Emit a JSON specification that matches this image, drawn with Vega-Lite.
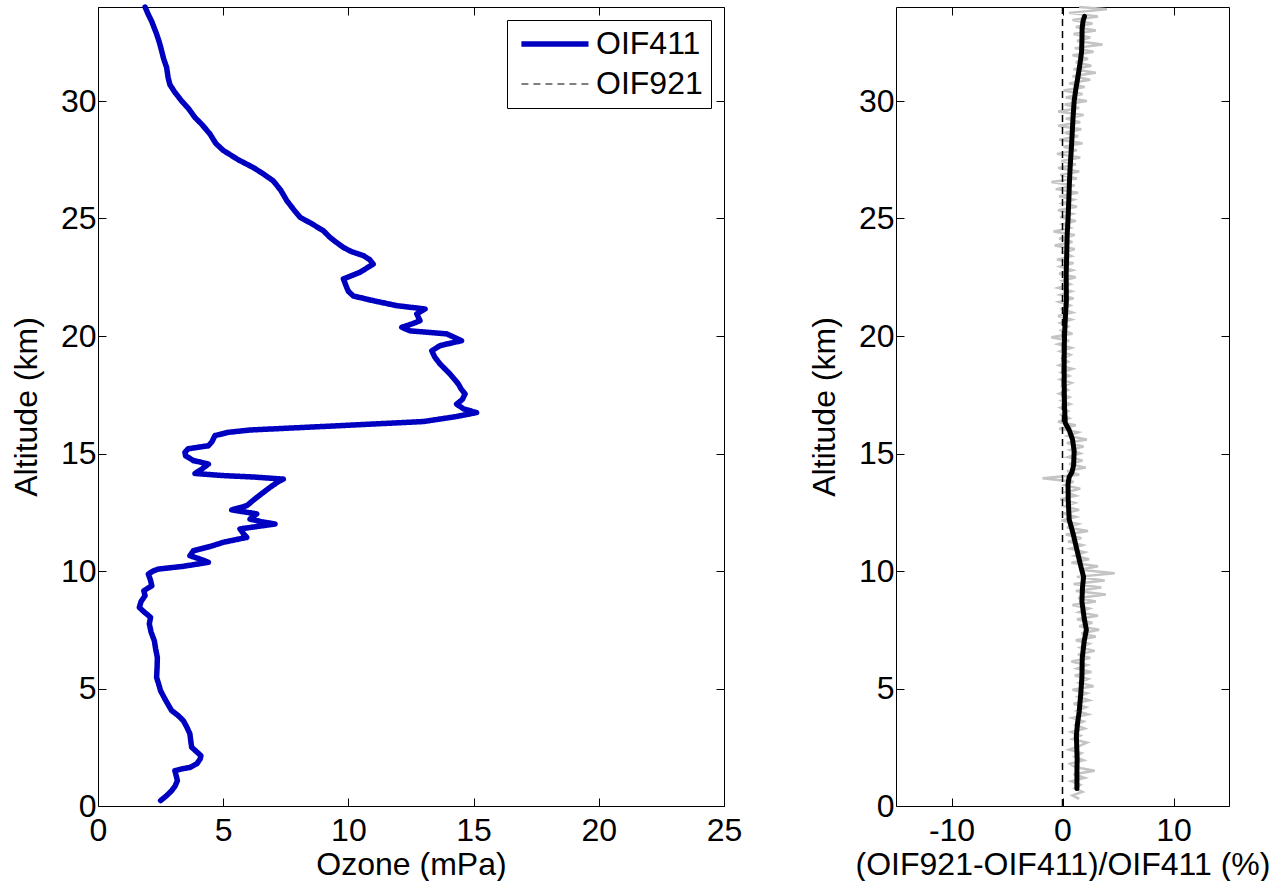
{
"$schema": "https://vega.github.io/schema/vega-lite/v6.json",
"padding": {"left": 9, "top": 1, "right": 0, "bottom": 0},
"background": "white",
"config": {
  "font": "Liberation Sans",
  "view": {"stroke": "black", "strokeWidth": 1},
  "axis": {"grid": false, "domain": false, "tickColor": "black", "tickSize": -8, "tickWidth": 1, "labelFontSize": 32, "labelColor": "black", "titleFontSize": 32, "titleFontWeight": "normal", "titleColor": "black", "labelFlush": false},
  "axisX": {"labelPadding": 17, "titlePadding": 3},
  "axisY": {"labelPadding": 10, "titlePadding": 17}
},
"datasets": {
  "ozone": [
{"series":"OIF411","alt":0.23,"ozone":2.50},{"series":"OIF411","alt":0.45,"ozone":2.75},{"series":"OIF411","alt":0.65,"ozone":2.94},{"series":"OIF411","alt":0.85,"ozone":3.08},{"series":"OIF411","alt":1.08,"ozone":3.17},{"series":"OIF411","alt":1.3,"ozone":3.12},{"series":"OIF411","alt":1.5,"ozone":3.07},{"series":"OIF411","alt":1.58,"ozone":3.35},{"series":"OIF411","alt":1.64,"ozone":3.67},{"series":"OIF411","alt":1.8,"ozone":3.95},{"series":"OIF411","alt":2.0,"ozone":4.08},{"series":"OIF411","alt":2.14,"ozone":4.11},{"series":"OIF411","alt":2.3,"ozone":3.95},{"series":"OIF411","alt":2.5,"ozone":3.74},{"series":"OIF411","alt":2.8,"ozone":3.7},{"series":"OIF411","alt":3.07,"ozone":3.67},{"series":"OIF411","alt":3.35,"ozone":3.55},{"series":"OIF411","alt":3.63,"ozone":3.41},{"series":"OIF411","alt":3.85,"ozone":3.2},{"series":"OIF411","alt":4.06,"ozone":2.94},{"series":"OIF411","alt":4.5,"ozone":2.7},{"series":"OIF411","alt":4.9,"ozone":2.5},{"series":"OIF411","alt":5.2,"ozone":2.42},{"series":"OIF411","alt":5.47,"ozone":2.34},{"series":"OIF411","alt":5.9,"ozone":2.36},{"series":"OIF411","alt":6.32,"ozone":2.37},{"series":"OIF411","alt":6.7,"ozone":2.3},{"series":"OIF411","alt":7.03,"ozone":2.25},{"series":"OIF411","alt":7.4,"ozone":2.12},{"series":"OIF411","alt":7.75,"ozone":2.05},{"series":"OIF411","alt":8.03,"ozone":2.1},{"series":"OIF411","alt":8.25,"ozone":1.85},{"series":"OIF411","alt":8.45,"ozone":1.65},{"series":"OIF411","alt":8.7,"ozone":1.72},{"series":"OIF411","alt":8.95,"ozone":1.88},{"series":"OIF411","alt":9.16,"ozone":1.83},{"series":"OIF411","alt":9.37,"ozone":2.15},{"series":"OIF411","alt":9.6,"ozone":2.1},{"series":"OIF411","alt":9.87,"ozone":2.01},{"series":"OIF411","alt":10.0,"ozone":2.2},{"series":"OIF411","alt":10.08,"ozone":2.4},{"series":"OIF411","alt":10.2,"ozone":3.41},{"series":"OIF411","alt":10.37,"ozone":4.41},{"series":"OIF411","alt":10.5,"ozone":4.1},{"series":"OIF411","alt":10.65,"ozone":3.67},{"series":"OIF411","alt":10.86,"ozone":3.81},{"series":"OIF411","alt":11.05,"ozone":4.5},{"series":"OIF411","alt":11.22,"ozone":5.0},{"series":"OIF411","alt":11.43,"ozone":5.94},{"series":"OIF411","alt":11.6,"ozone":5.8},{"series":"OIF411","alt":11.79,"ozone":5.67},{"series":"OIF411","alt":11.9,"ozone":6.4},{"series":"OIF411","alt":12.0,"ozone":7.07},{"series":"OIF411","alt":12.1,"ozone":6.5},{"series":"OIF411","alt":12.21,"ozone":6.07},{"series":"OIF411","alt":12.43,"ozone":6.34},{"series":"OIF411","alt":12.6,"ozone":5.34},{"series":"OIF411","alt":12.78,"ozone":5.94},{"series":"OIF411","alt":13.13,"ozone":6.34},{"series":"OIF411","alt":13.56,"ozone":6.87},{"series":"OIF411","alt":13.8,"ozone":7.2},{"series":"OIF411","alt":13.91,"ozone":7.4},{"series":"OIF411","alt":14.0,"ozone":6.2},{"series":"OIF411","alt":14.06,"ozone":5.0},{"series":"OIF411","alt":14.15,"ozone":3.87},{"series":"OIF411","alt":14.3,"ozone":4.1},{"series":"OIF411","alt":14.55,"ozone":4.41},{"series":"OIF411","alt":14.7,"ozone":3.81},{"series":"OIF411","alt":14.9,"ozone":3.5},{"series":"OIF411","alt":15.05,"ozone":3.47},{"series":"OIF411","alt":15.2,"ozone":3.6},{"series":"OIF411","alt":15.33,"ozone":4.41},{"series":"OIF411","alt":15.5,"ozone":4.55},{"series":"OIF411","alt":15.76,"ozone":4.67},{"series":"OIF411","alt":15.9,"ozone":5.2},{"series":"OIF411","alt":16.0,"ozone":6.07},{"series":"OIF411","alt":16.15,"ozone":9.0},{"series":"OIF411","alt":16.36,"ozone":13.0},{"series":"OIF411","alt":16.57,"ozone":14.3},{"series":"OIF411","alt":16.74,"ozone":15.12},{"series":"OIF411","alt":16.9,"ozone":14.6},{"series":"OIF411","alt":17.1,"ozone":14.32},{"series":"OIF411","alt":17.3,"ozone":14.55},{"series":"OIF411","alt":17.53,"ozone":14.66},{"series":"OIF411","alt":17.75,"ozone":14.5},{"series":"OIF411","alt":17.96,"ozone":14.39},{"series":"OIF411","alt":18.38,"ozone":14.06},{"series":"OIF411","alt":18.81,"ozone":13.66},{"series":"OIF411","alt":19.1,"ozone":13.45},{"series":"OIF411","alt":19.37,"ozone":13.33},{"series":"OIF411","alt":19.59,"ozone":13.66},{"series":"OIF411","alt":19.8,"ozone":14.52},{"series":"OIF411","alt":20.09,"ozone":13.93},{"series":"OIF411","alt":20.22,"ozone":12.46},{"series":"OIF411","alt":20.37,"ozone":12.13},{"series":"OIF411","alt":20.5,"ozone":12.5},{"series":"OIF411","alt":20.65,"ozone":12.86},{"series":"OIF411","alt":20.94,"ozone":12.73},{"series":"OIF411","alt":21.15,"ozone":13.06},{"series":"OIF411","alt":21.29,"ozone":11.93},{"series":"OIF411","alt":21.5,"ozone":11.0},{"series":"OIF411","alt":21.7,"ozone":10.2},{"series":"OIF411","alt":21.9,"ozone":10.0},{"series":"OIF411","alt":22.07,"ozone":9.93},{"series":"OIF411","alt":22.43,"ozone":9.8},{"series":"OIF411","alt":22.71,"ozone":10.46},{"series":"OIF411","alt":23.06,"ozone":10.99},{"series":"OIF411","alt":23.25,"ozone":10.85},{"series":"OIF411","alt":23.42,"ozone":10.6},{"series":"OIF411","alt":23.6,"ozone":10.1},{"series":"OIF411","alt":23.77,"ozone":9.8},{"series":"OIF411","alt":24.0,"ozone":9.5},{"series":"OIF411","alt":24.2,"ozone":9.26},{"series":"OIF411","alt":24.48,"ozone":9.0},{"series":"OIF411","alt":24.8,"ozone":8.5},{"series":"OIF411","alt":25.05,"ozone":8.07},{"series":"OIF411","alt":25.4,"ozone":7.8},{"series":"OIF411","alt":25.76,"ozone":7.54},{"series":"OIF411","alt":26.2,"ozone":7.3},{"series":"OIF411","alt":26.6,"ozone":7.0},{"series":"OIF411","alt":26.9,"ozone":6.6},{"series":"OIF411","alt":27.17,"ozone":6.2},{"series":"OIF411","alt":27.5,"ozone":5.6},{"series":"OIF411","alt":27.9,"ozone":5.0},{"series":"OIF411","alt":28.2,"ozone":4.7},{"series":"OIF411","alt":28.6,"ozone":4.47},{"series":"OIF411","alt":29.0,"ozone":4.15},{"series":"OIF411","alt":29.3,"ozone":3.87},{"series":"OIF411","alt":29.7,"ozone":3.6},{"series":"OIF411","alt":30.0,"ozone":3.34},{"series":"OIF411","alt":30.4,"ozone":3.05},{"series":"OIF411","alt":30.7,"ozone":2.87},{"series":"OIF411","alt":31.0,"ozone":2.8},{"series":"OIF411","alt":31.43,"ozone":2.74},{"series":"OIF411","alt":31.8,"ozone":2.62},{"series":"OIF411","alt":32.14,"ozone":2.54},{"series":"OIF411","alt":32.5,"ozone":2.45},{"series":"OIF411","alt":32.85,"ozone":2.34},{"series":"OIF411","alt":33.1,"ozone":2.25},{"series":"OIF411","alt":33.4,"ozone":2.14},{"series":"OIF411","alt":33.7,"ozone":2.0},{"series":"OIF411","alt":34.0,"ozone":1.88}
  ],
  "smooth": [
{"alt":0.75,"diff":1.3},{"alt":1.5,"diff":1.3},{"alt":2.0,"diff":1.32},{"alt":3.0,"diff":1.25},{"alt":3.5,"diff":1.35},{"alt":4.0,"diff":1.5},{"alt":4.8,"diff":1.65},{"alt":5.5,"diff":1.75},{"alt":6.3,"diff":1.78},{"alt":7.0,"diff":1.95},{"alt":7.5,"diff":2.15},{"alt":8.0,"diff":1.95},{"alt":8.7,"diff":1.75},{"alt":9.3,"diff":1.8},{"alt":9.75,"diff":1.9},{"alt":10.2,"diff":1.65},{"alt":10.6,"diff":1.45},{"alt":11.0,"diff":1.25},{"alt":11.6,"diff":0.95},{"alt":12.2,"diff":0.6},{"alt":13.0,"diff":0.52},{"alt":13.7,"diff":0.5},{"alt":14.0,"diff":0.6},{"alt":14.2,"diff":0.85},{"alt":14.5,"diff":1.0},{"alt":15.1,"diff":1.05},{"alt":15.6,"diff":0.9},{"alt":16.0,"diff":0.6},{"alt":16.3,"diff":0.25},{"alt":17.0,"diff":0.18},{"alt":18.0,"diff":0.15},{"alt":19.0,"diff":0.15},{"alt":20.0,"diff":0.18},{"alt":21.0,"diff":0.28},{"alt":21.5,"diff":0.35},{"alt":22.6,"diff":0.33},{"alt":23.5,"diff":0.38},{"alt":24.3,"diff":0.42},{"alt":25.0,"diff":0.5},{"alt":25.8,"diff":0.57},{"alt":26.5,"diff":0.62},{"alt":27.2,"diff":0.69},{"alt":28.0,"diff":0.8},{"alt":28.6,"diff":0.87},{"alt":29.3,"diff":0.95},{"alt":30.0,"diff":1.05},{"alt":30.5,"diff":1.2},{"alt":31.0,"diff":1.38},{"alt":31.5,"diff":1.55},{"alt":32.1,"diff":1.72},{"alt":32.6,"diff":1.75},{"alt":33.1,"diff":1.77},{"alt":33.4,"diff":1.85},{"alt":33.6,"diff":1.98}
  ],
  "raw": [
{"alt":0.3,"diff":1.5},{"alt":0.45,"diff":0.9},{"alt":0.6,"diff":1.8},{"alt":0.75,"diff":1.1},{"alt":0.9,"diff":1.6},{"alt":1.05,"diff":0.8},{"alt":1.2,"diff":2.0},{"alt":1.35,"diff":1.0},{"alt":1.5,"diff":2.9},{"alt":1.65,"diff":1.2},{"alt":1.8,"diff":0.7},{"alt":1.95,"diff":1.9},{"alt":2.1,"diff":1.1},{"alt":2.25,"diff":1.7},{"alt":2.4,"diff":0.6},{"alt":2.55,"diff":1.5},{"alt":2.7,"diff":2.2},{"alt":2.85,"diff":0.9},{"alt":3.0,"diff":1.6},{"alt":3.15,"diff":0.8},{"alt":3.3,"diff":2.0},{"alt":3.45,"diff":1.2},{"alt":3.6,"diff":1.9},{"alt":3.75,"diff":0.9},{"alt":3.9,"diff":2.3},{"alt":4.05,"diff":1.3},{"alt":4.2,"diff":2.1},{"alt":4.35,"diff":1.0},{"alt":4.5,"diff":2.4},{"alt":4.65,"diff":1.4},{"alt":4.8,"diff":2.2},{"alt":4.95,"diff":0.9},{"alt":5.1,"diff":2.8},{"alt":5.25,"diff":1.5},{"alt":5.4,"diff":2.3},{"alt":5.55,"diff":1.1},{"alt":5.7,"diff":2.6},{"alt":5.85,"diff":1.3},{"alt":6.0,"diff":2.2},{"alt":6.15,"diff":0.8},{"alt":6.3,"diff":2.5},{"alt":6.45,"diff":1.4},{"alt":6.6,"diff":2.9},{"alt":6.75,"diff":1.6},{"alt":6.9,"diff":2.4},{"alt":7.05,"diff":1.2},{"alt":7.2,"diff":3.0},{"alt":7.35,"diff":1.7},{"alt":7.5,"diff":3.3},{"alt":7.65,"diff":1.5},{"alt":7.8,"diff":2.7},{"alt":7.95,"diff":1.3},{"alt":8.1,"diff":3.2},{"alt":8.25,"diff":1.5},{"alt":8.4,"diff":2.4},{"alt":8.55,"diff":0.9},{"alt":8.7,"diff":3.0},{"alt":8.85,"diff":1.4},{"alt":9.0,"diff":3.9},{"alt":9.15,"diff":1.2},{"alt":9.3,"diff":3.5},{"alt":9.45,"diff":1.0},{"alt":9.6,"diff":3.8},{"alt":9.75,"diff":1.3},{"alt":9.9,"diff":4.7},{"alt":10.05,"diff":1.6},{"alt":10.2,"diff":3.2},{"alt":10.35,"diff":0.8},{"alt":10.5,"diff":2.4},{"alt":10.65,"diff":1.1},{"alt":10.8,"diff":2.0},{"alt":10.95,"diff":0.7},{"alt":11.1,"diff":1.8},{"alt":11.25,"diff":0.5},{"alt":11.4,"diff":1.7},{"alt":11.55,"diff":0.3},{"alt":11.7,"diff":2.3},{"alt":11.85,"diff":0.4},{"alt":12.0,"diff":1.4},{"alt":12.15,"diff":-0.1},{"alt":12.3,"diff":1.2},{"alt":12.45,"diff":0.1},{"alt":12.6,"diff":1.5},{"alt":12.75,"diff":0.2},{"alt":12.9,"diff":1.1},{"alt":13.05,"diff":-0.2},{"alt":13.2,"diff":1.2},{"alt":13.35,"diff":0.3},{"alt":13.5,"diff":1.6},{"alt":13.65,"diff":0.2},{"alt":13.8,"diff":1.0},{"alt":13.95,"diff":-1.8},{"alt":14.1,"diff":1.5},{"alt":14.25,"diff":0.4},{"alt":14.4,"diff":2.1},{"alt":14.55,"diff":0.6},{"alt":14.7,"diff":1.8},{"alt":14.85,"diff":0.5},{"alt":15.0,"diff":1.6},{"alt":15.15,"diff":0.7},{"alt":15.3,"diff":1.9},{"alt":15.45,"diff":0.4},{"alt":15.6,"diff":2.2},{"alt":15.75,"diff":0.5},{"alt":15.9,"diff":1.4},{"alt":16.05,"diff":-0.3},{"alt":16.2,"diff":1.2},{"alt":16.35,"diff":-0.4},{"alt":16.5,"diff":0.6},{"alt":16.65,"diff":-0.1},{"alt":16.8,"diff":0.5},{"alt":16.95,"diff":-0.2},{"alt":17.1,"diff":0.7},{"alt":17.25,"diff":-0.1},{"alt":17.4,"diff":0.6},{"alt":17.55,"diff":-0.3},{"alt":17.7,"diff":0.5},{"alt":17.85,"diff":0.0},{"alt":18.0,"diff":0.8},{"alt":18.15,"diff":-0.2},{"alt":18.3,"diff":0.6},{"alt":18.45,"diff":-0.1},{"alt":18.6,"diff":0.9},{"alt":18.75,"diff":-0.3},{"alt":18.9,"diff":0.5},{"alt":19.05,"diff":0.0},{"alt":19.2,"diff":0.7},{"alt":19.35,"diff":-0.2},{"alt":19.5,"diff":0.8},{"alt":19.65,"diff":-0.4},{"alt":19.8,"diff":0.6},{"alt":19.95,"diff":-1.0},{"alt":20.1,"diff":0.9},{"alt":20.25,"diff":-0.1},{"alt":20.4,"diff":0.5},{"alt":20.55,"diff":-0.2},{"alt":20.7,"diff":0.8},{"alt":20.85,"diff":-0.4},{"alt":21.0,"diff":0.9},{"alt":21.15,"diff":0.0},{"alt":21.3,"diff":0.7},{"alt":21.45,"diff":-0.3},{"alt":21.6,"diff":1.0},{"alt":21.75,"diff":-0.2},{"alt":21.9,"diff":0.8},{"alt":22.05,"diff":-0.4},{"alt":22.2,"diff":0.7},{"alt":22.35,"diff":0.0},{"alt":22.5,"diff":1.2},{"alt":22.65,"diff":-0.3},{"alt":22.8,"diff":0.9},{"alt":22.95,"diff":-0.2},{"alt":23.1,"diff":1.0},{"alt":23.25,"diff":-0.5},{"alt":23.4,"diff":0.8},{"alt":23.55,"diff":0.1},{"alt":23.7,"diff":1.1},{"alt":23.85,"diff":-0.7},{"alt":24.0,"diff":0.9},{"alt":24.15,"diff":-0.3},{"alt":24.3,"diff":1.1},{"alt":24.45,"diff":-0.8},{"alt":24.6,"diff":0.7},{"alt":24.75,"diff":0.0},{"alt":24.9,"diff":1.2},{"alt":25.05,"diff":-0.2},{"alt":25.2,"diff":0.9},{"alt":25.35,"diff":-0.4},{"alt":25.5,"diff":1.3},{"alt":25.65,"diff":0.0},{"alt":25.8,"diff":1.0},{"alt":25.95,"diff":-0.3},{"alt":26.1,"diff":1.4},{"alt":26.25,"diff":-0.6},{"alt":26.4,"diff":1.1},{"alt":26.55,"diff":-1.0},{"alt":26.7,"diff":1.3},{"alt":26.85,"diff":-0.2},{"alt":27.0,"diff":1.5},{"alt":27.15,"diff":-0.4},{"alt":27.3,"diff":1.2},{"alt":27.45,"diff":-0.1},{"alt":27.6,"diff":1.6},{"alt":27.75,"diff":-0.5},{"alt":27.9,"diff":1.3},{"alt":28.05,"diff":0.1},{"alt":28.2,"diff":1.8},{"alt":28.35,"diff":-0.3},{"alt":28.5,"diff":1.4},{"alt":28.65,"diff":0.2},{"alt":28.8,"diff":1.7},{"alt":28.95,"diff":-0.4},{"alt":29.1,"diff":1.6},{"alt":29.25,"diff":0.3},{"alt":29.4,"diff":1.9},{"alt":29.55,"diff":-0.4},{"alt":29.7,"diff":1.5},{"alt":29.85,"diff":0.2},{"alt":30.0,"diff":2.2},{"alt":30.15,"diff":0.3},{"alt":30.3,"diff":1.8},{"alt":30.45,"diff":0.1},{"alt":30.6,"diff":2.0},{"alt":30.75,"diff":0.6},{"alt":30.9,"diff":2.5},{"alt":31.05,"diff":0.9},{"alt":31.2,"diff":3.0},{"alt":31.35,"diff":1.0},{"alt":31.5,"diff":2.6},{"alt":31.65,"diff":1.2},{"alt":31.8,"diff":2.3},{"alt":31.95,"diff":0.9},{"alt":32.1,"diff":2.8},{"alt":32.25,"diff":1.1},{"alt":32.4,"diff":3.6},{"alt":32.55,"diff":1.3},{"alt":32.7,"diff":2.5},{"alt":32.85,"diff":1.0},{"alt":33.0,"diff":3.0},{"alt":33.15,"diff":1.2},{"alt":33.3,"diff":2.7},{"alt":33.45,"diff":0.9},{"alt":33.6,"diff":3.2},{"alt":33.75,"diff":0.6},{"alt":33.9,"diff":4.0},{"alt":34.0,"diff":1.5}
  ],
  "zero": [{"diff": 0}]
},
"spacing": 64,
"hconcat": [
  {
    "width": 626, "height": 799,
    "data": {"name": "ozone"},
    "layer": [
      {
        "mark": {"type": "line", "strokeJoin": "round", "strokeCap": "round"},
        "encoding": {
          "x": {"field": "ozone", "type": "quantitative", "scale": {"domain": [0, 25], "nice": false, "zero": false}, "axis": {"orient": "bottom", "values": [0, 5, 10, 15, 20, 25], "title": "Ozone (mPa)"}},
          "y": {"field": "alt", "type": "quantitative", "scale": {"domain": [0, 34], "nice": false, "zero": false}, "axis": {"orient": "left", "values": [0, 5, 10, 15, 20, 25, 30], "title": "Altitude (km)"}},
          "order": {"field": "alt", "type": "quantitative"},
          "color": {"field": "series", "type": "nominal", "scale": {"domain": ["OIF411", "OIF921"], "range": ["#0000c0", "#000000"]},
            "legend": {"title": null, "orient": "none", "legendX": 409, "legendY": 13, "padding": 8, "strokeColor": "black", "fillColor": "white", "labelFontSize": 32, "labelColor": "black", "symbolType": "M-1,0H11", "symbolSize": 125, "symbolOffset": -4, "labelOffset": 53, "rowPadding": 8, "labelLimit": 400}},
          "strokeDash": {"field": "series", "type": "nominal", "scale": {"domain": ["OIF411", "OIF921"], "range": [[1, 0], [7, 5]]}},
          "strokeWidth": {"field": "series", "type": "nominal", "scale": {"domain": ["OIF411", "OIF921"], "range": [5.5, 1]}}
        }
      },
      {
        "mark": {"type": "line", "strokeOpacity": 0},
        "encoding": {
          "x": {"field": "ozone", "type": "quantitative", "scale": {"domain": [0, 25], "nice": false, "zero": false}, "axis": {"orient": "top", "values": [0, 5, 10, 15, 20, 25], "labels": false, "title": null}},
          "y": {"field": "alt", "type": "quantitative", "scale": {"domain": [0, 34], "nice": false, "zero": false}, "axis": {"orient": "right", "values": [0, 5, 10, 15, 20, 25, 30], "labels": false, "title": null}},
          "order": {"field": "alt", "type": "quantitative"}
        }
      }
    ],
    "resolve": {"axis": {"x": "independent", "y": "independent"}}
  },
  {
    "width": 333, "height": 799,
    "layer": [
      {
        "data": {"name": "raw"},
        "mark": {"type": "line", "color": "#c4c4c4", "strokeWidth": 2.5},
        "encoding": {
          "x": {"field": "diff", "type": "quantitative", "scale": {"domain": [-15, 15], "nice": false, "zero": false}, "axis": {"orient": "bottom", "values": [-10, 0, 10], "labelExpr": "datum.value < 0 ? '-' + format(-datum.value, 'd') : format(datum.value, 'd')", "title": "(OIF921-OIF411)/OIF411 (%)"}},
          "y": {"field": "alt", "type": "quantitative", "scale": {"domain": [0, 34], "nice": false, "zero": false}, "axis": {"orient": "left", "values": [0, 5, 10, 15, 20, 25, 30], "title": "Altitude (km)"}},
          "order": {"field": "alt", "type": "quantitative"}
        }
      },
      {
        "data": {"name": "zero"},
        "mark": {"type": "rule", "color": "black", "strokeWidth": 1.5, "strokeDash": [7, 5]},
        "encoding": {
          "x": {"field": "diff", "type": "quantitative", "axis": null}
        }
      },
      {
        "data": {"name": "smooth"},
        "mark": {"type": "line", "color": "black", "strokeWidth": 5, "strokeJoin": "round", "strokeCap": "round"},
        "encoding": {
          "x": {"field": "diff", "type": "quantitative", "scale": {"domain": [-15, 15], "nice": false, "zero": false}, "axis": {"orient": "top", "values": [-10, 0, 10], "labels": false, "title": null}},
          "y": {"field": "alt", "type": "quantitative", "scale": {"domain": [0, 34], "nice": false, "zero": false}, "axis": {"orient": "right", "values": [0, 5, 10, 15, 20, 25, 30], "labels": false, "title": null}},
          "order": {"field": "alt", "type": "quantitative"}
        }
      }
    ],
    "resolve": {"axis": {"x": "independent", "y": "independent"}}
  }
]
}
